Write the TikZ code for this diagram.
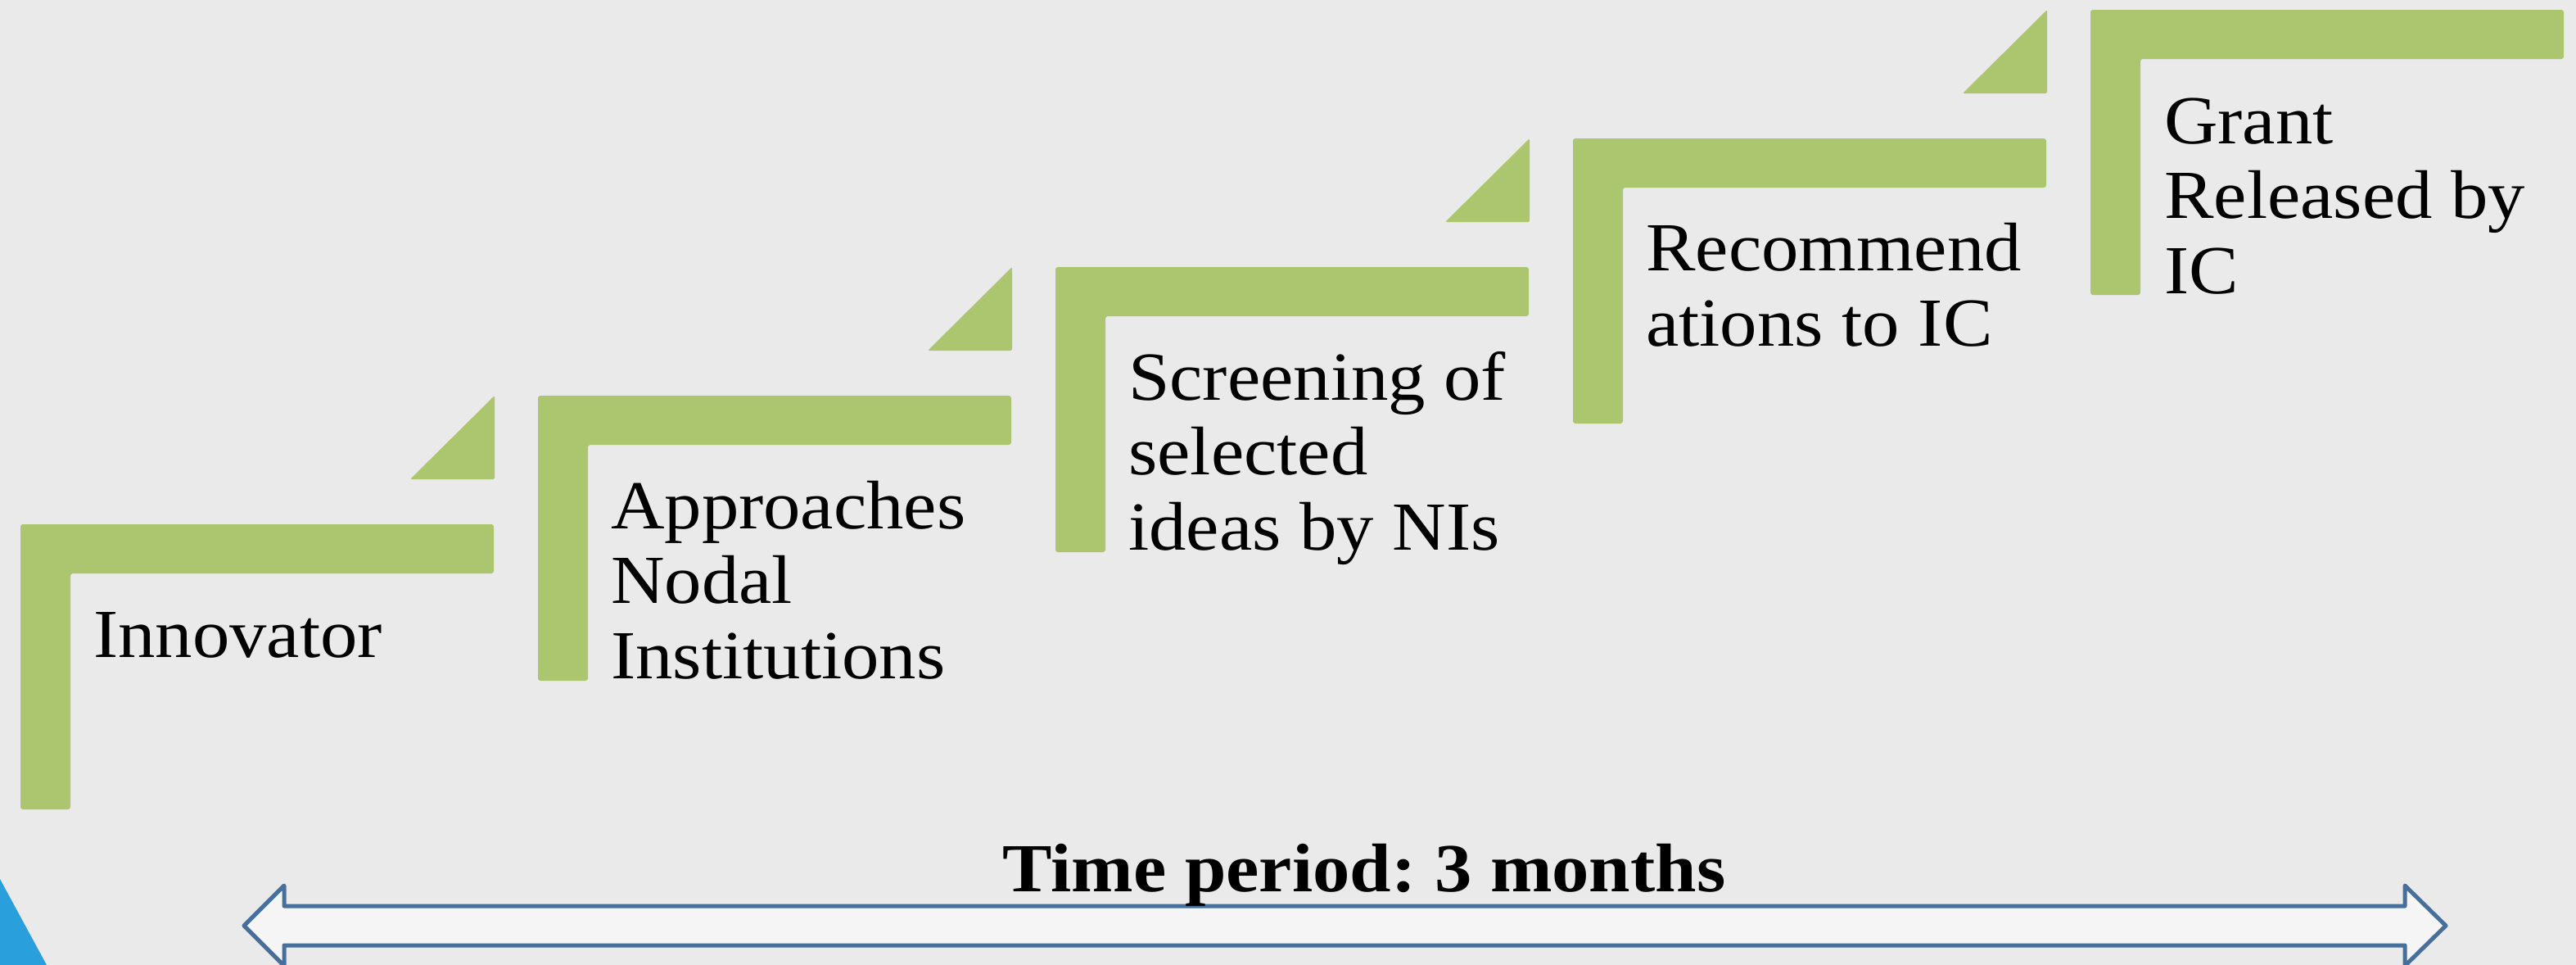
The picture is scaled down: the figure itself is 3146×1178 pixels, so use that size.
\documentclass[tikz,border=0pt]{standalone}
\usepackage{fontspec}
\setmainfont{Liberation Serif}[FakeStretch=1.08]
\definecolor{bgc}{RGB}{234,234,234}
\definecolor{stepgreen}{RGB}{172,197,111}
\definecolor{arrowblue}{RGB}{70,112,155}
\definecolor{arrowfill}{RGB}{245,245,245}
\definecolor{cornerblue}{RGB}{41,160,219}
\frenchspacing
\begin{document}
\begin{tikzpicture}[x=1pt,y=-1pt,
  stepshape/.style={fill=stepgreen,draw=none,rounded corners=3pt},
  steptext/.style={anchor=base west,align=left,inner sep=0pt,font=\fontsize{84}{91.5}\selectfont},
  titletext/.style={anchor=base,inner sep=0pt,font=\fontsize{84}{91.5}\selectfont\bfseries}]
\useasboundingbox (0,0) rectangle (3146,1178);
\clip (0,0) rectangle (3146,1178);
\fill[bgc] (0,0) rectangle (3146,1178);
% blue corner
\fill[cornerblue] (0,1073) -- (57,1178) -- (0,1178) -- cycle;
% steps
\foreach \k in {0,...,4}{
  \pgfmathsetmacro{\L}{25+632*\k}
  \pgfmathsetmacro{\T}{640-157*\k}
  \fill[stepshape] (\L,\T) -- (\L+578,\T) -- (\L+578,\T+60) -- (\L+61,\T+60)
     -- (\L+61,\T+348) -- (\L,\T+348) -- cycle;
}
\foreach \k in {0,...,3}{
  \pgfmathsetmacro{\L}{25+632*\k}
  \pgfmathsetmacro{\T}{640-157*\k}
  \fill[stepshape,rounded corners=2pt] (\L+579,\T-157) -- (\L+579,\T-55) -- (\L+476,\T-55) -- cycle;
}
% texts (anchor = baseline of the last line)
\node[steptext] (s1) at (114,802) {Innovator};
\node[steptext] (s2) at (746,828) {Approaches\\Nodal\\Institutions};
\node[steptext] (s3) at (1378,671) {Screening of\\selected\\ideas by NIs};
\node[steptext] (s4) at (2010,422) {Recommend\\ations to IC};
\node[steptext] (s5) at (2643,358) {Grant\\Released by\\IC};
% time arrow
\draw[line width=5pt,draw=arrowblue,fill=arrowfill,line join=round]
  (298,1130) -- (347,1081) -- (347,1106) -- (2937,1106) -- (2937,1081) -- (2987,1130)
  -- (2937,1179) -- (2937,1154) -- (347,1154) -- (347,1179) -- cycle;
\node[titletext] (title) at (1666,1088) {Time period: 3 months};
\end{tikzpicture}
\end{document}
